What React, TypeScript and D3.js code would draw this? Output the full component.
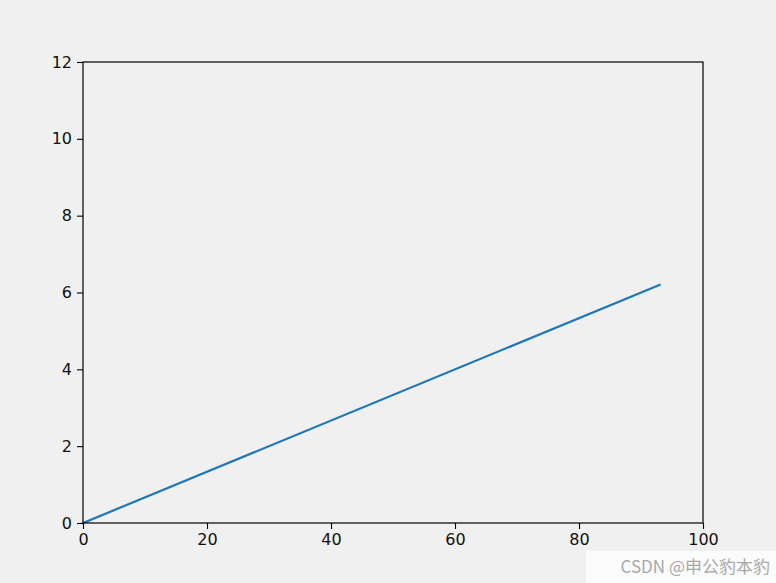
import * as d3 from "d3";
import React from "react";

// line data
const xValues = [0, 93];
const yValues = [0, 6.2];
const xTicks = [0, 20, 40, 60, 80, 100];
const yTicks = [0, 2, 4, 6, 8, 10, 12];
const watermark = "CSDN @申公豹本豹";

export default function App() {
  const ref = React.useRef<SVGSVGElement>(null);

  React.useEffect(() => {
    const W = 776;
    const H = 583;
    const margin = { left: 83, right: 73, top: 62, bottom: 60 };
    const width = W - margin.left - margin.right;
    const height = H - margin.top - margin.bottom;

    const svg = d3.select(ref.current);
    svg.selectAll("*").remove();

    svg.append("rect").attr("width", W).attr("height", H).attr("fill", "#f0f0f0");

    const g = svg.append("g").attr("transform", `translate(${margin.left}, ${margin.top})`);

    const x = d3.scaleLinear().domain([0, 100]).range([0, width]);
    const y = d3.scaleLinear().domain([0, 12]).range([height, 0]);

    // the line
    const points = xValues.map((v, i) => [v, yValues[i]] as [number, number]);
    g.append("path")
      .datum(points)
      .attr("fill", "none")
      .attr("stroke", "#1f77b4")
      .attr("stroke-width", 2.2)
      .attr("stroke-linecap", "square")
      .attr(
        "d",
        d3
          .line()
          .x((d) => x(d[0]))
          .y((d) => y(d[1]))
      );

    // frame
    g.append("rect")
      .attr("width", width)
      .attr("height", height)
      .attr("fill", "none")
      .attr("stroke", "#000")
      .attr("stroke-width", 1.2);

    const font = "'DejaVu Sans', sans-serif";

    // x axis
    const xAxis = g
      .append("g")
      .attr("transform", `translate(0, ${height})`)
      .call(d3.axisBottom(x).tickValues(xTicks).tickSize(6).tickPadding(5).tickFormat(d3.format("d")));
    xAxis.select(".domain").remove();
    xAxis.selectAll("line").attr("stroke-width", 1.1);
    xAxis.selectAll("text").style("font-family", font).style("font-size", "16px").attr("fill", "#111");

    // y axis
    const yAxis = g
      .append("g")
      .call(d3.axisLeft(y).tickValues(yTicks).tickSize(6).tickPadding(5).tickFormat(d3.format("d")));
    yAxis.select(".domain").remove();
    yAxis.selectAll("line").attr("stroke-width", 1.1);
    yAxis.selectAll("text").style("font-family", font).style("font-size", "16px").attr("fill", "#111");

    // watermark
    svg.append("rect")
      .attr("x", 586)
      .attr("y", 551)
      .attr("width", 190)
      .attr("height", 32)
      .attr("fill", "#fbfbfb");
    svg.append("text")
      .attr("x", 770)
      .attr("y", 573)
      .attr("text-anchor", "end")
      .style("font-family", "'Noto Sans CJK SC', sans-serif")
      .style("font-size", "17px")
      .attr("fill", "#a8a8a8")
      .text(watermark);
  }, []);

  return (
    <svg
      ref={ref}
      width={776}
      height={583}
      style={{ position: "absolute", left: 0, top: 0, display: "block" }}
    />
  );
}
